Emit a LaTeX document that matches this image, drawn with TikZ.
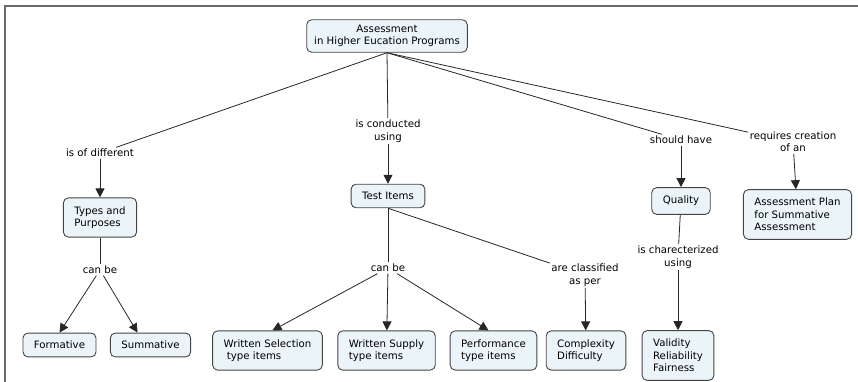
\documentclass[tikz,border=0pt]{standalone}
\usepackage{fontspec}
\setmainfont{DejaVu Sans}
\usetikzlibrary{arrows.meta, positioning}
\definecolor{conceptfill}{HTML}{EBF4F8}
\definecolor{conceptline}{HTML}{454545}
\definecolor{framegray}{HTML}{6A6A6A}

\begin{document}
\begin{tikzpicture}[x=1pt, y=1pt, on grid,
    font=\fontsize{10.2}{12.4}\selectfont,
    concept/.style={draw=conceptline, fill=conceptfill, rounded corners=5pt, line width=0.9pt, align=left, inner xsep=11pt, inner ysep=8.5pt},
    linkword/.style={fill=white, align=center, inner sep=1.5pt},
    conn/.style={draw=black!85, line width=0.8pt},
    arr/.style={conn, arrows={-Triangle[width=9pt, length=9pt]}}]

    \useasboundingbox (0,0) rectangle (858,382);
    \draw[framegray, line width=1.6pt] (5,0) -- (5,376) -- (858,376);

    %% top
    % Nodes
    \node[concept, align=center, inner xsep=7.5pt, inner ysep=5.3pt] (root) at (387,346) {Assessment\\in Higher Eucation Programs};

    %% left branch
    % Nodes
    \node[linkword] (ldiff) at (100,229) {is of different};
    \node[concept, below=64.5pt of ldiff] (types) {Types and\\Purposes};
    \node[linkword, below=52.5pt of types] (lcan1) {can be};
    \node[concept, inner ysep=8pt] (form) at (59.5,37) {Formative};
    \node[concept, inner ysep=8pt] (summ) at (150.5,37) {Summative};

    % Connections
    \draw[conn] (root.south) -- (ldiff);
    \draw[arr] (ldiff) -- (types);
    \draw[conn] (types) -- (lcan1);
    \draw[arr] (lcan1) -- (form.north);
    \draw[arr] (lcan1) -- ([xshift=-13pt]summ.north);

    %% middle branch
    % Nodes
    \node[linkword] (lconduct) at (388,251) {is conducted\\using};
    \node[concept, inner ysep=8pt, below=65pt of lconduct] (test) {Test Items};
    \node[linkword, below=72pt of test] (lcan2) {can be};
    \node[concept] (wsel) at (267.5,31.5) {Written Selection\\\ type items};
    \node[concept, below=82.5pt of lcan2, xshift=-1.5pt] (wsup) {Written Supply\\type items};
    \node[concept] (perf) at (493.5,31.5) {Performance\\type items};
    \node[linkword] (lclass) at (585,107) {are classified\\as per};
    \node[concept, below=75.5pt of lclass, xshift=1pt] (cplx) {Complexity\\Difficulty};

    % Connections
    \draw[conn] (root.south) -- (lconduct);
    \draw[arr] (lconduct) -- (test);
    \draw[conn] (test) -- (lcan2);
    \draw[arr] (lcan2) -- ([xshift=5pt]wsel.north);
    \draw[arr] (lcan2) -- (wsup);
    \draw[arr] (lcan2) -- ([xshift=-5pt]perf.north);
    \draw[conn] (test.south) -- (lclass);
    \draw[arr] (lclass) -- (cplx);

    %% right branches
    % Nodes
    \node[linkword] (lshould) at (681,242) {should have};
    \node[concept, inner ysep=8.5pt, below=61pt of lshould] (qual) {Quality};
    \node[linkword, below=56pt of qual, xshift=-3pt] (lcharac) {is charecterized\\using};
    \node[concept, below=98.5pt of lcharac] (valid) {Validity\\Reliability\\Fairness};
    \node[linkword] (lreq) at (793,240) {requires creation\\of an};
    \node[concept, below=72.5pt of lreq, xshift=4.5pt] (plan) {Assessment Plan\\for Summative\\Assessment};

    % Connections
    \draw[conn] (root.south) -- (lshould);
    \draw[arr] (lshould) -- (qual);
    \draw[conn] (qual) -- (lcharac);
    \draw[arr] (lcharac) -- (valid);
    \draw[conn] (root.south) -- (lreq);
    \draw[arr] (lreq) -- (plan);
\end{tikzpicture}
\end{document}
